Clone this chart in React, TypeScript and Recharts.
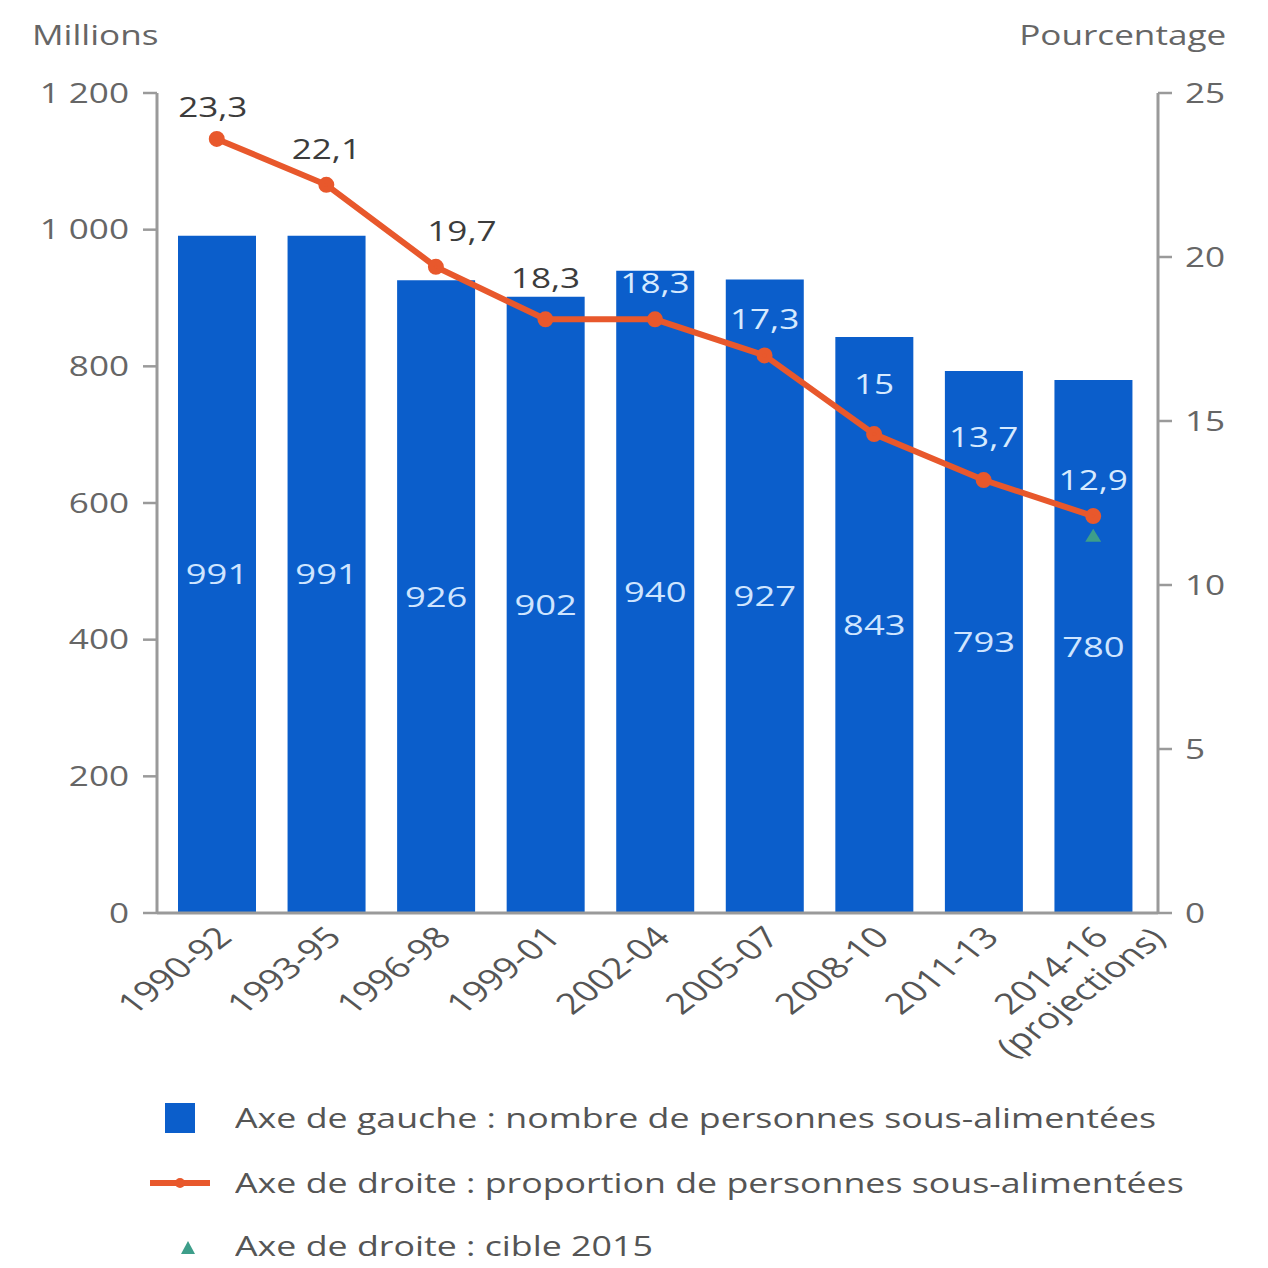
import React from "react";
import { Bar, ComposedChart, LabelList, Line, XAxis, YAxis } from "recharts";

const PERIODS = [
  "1990-92",
  "1993-95",
  "1996-98",
  "1999-01",
  "2002-04",
  "2005-07",
  "2008-10",
  "2011-13",
  "2014-16",
];
const PEOPLE = [991, 991, 926, 902, 940, 927, 843, 793, 780];
const SHARE = [23.6, 22.2, 19.7, 18.1, 18.1, 17.0, 14.6, 13.2, 12.1];
const SHARE_LABELS = ["23,3", "22,1", "19,7", "18,3", "18,3", "17,3", "15", "13,7", "12,9"];
const TARGET = [null, null, null, null, null, null, null, null, 11.5];
const LEFT_TICKS = [0, 200, 400, 600, 800, 1000, 1200];
const RIGHT_TICKS = [0, 5, 10, 15, 20, 25];

const BLUE = "#0b5ecb";
const ORANGE = "#e8582c";
const TEAL = "#3d9e8a";
const AXIS = "#9a9a9a";
const GREY_TEXT = "#666";
const FONT = "'Open Sans', 'DejaVu Sans', sans-serif";
// the source picture is stretched horizontally, so glyphs get widened too
const STRETCH = 1.3;

const data = PERIODS.map((period, i) => ({
  period,
  people: PEOPLE[i],
  share: SHARE[i],
  shareLabel: SHARE_LABELS[i],
  target: TARGET[i],
}));

const fmtThousands = (v: number) =>
  v >= 1000 ? `${Math.floor(v / 1000)} ${String(v % 1000).padStart(3, "0")}` : String(v);

function WideText({ x, y, anchor, fill, size, children }: any) {
  return (
    <g transform={`translate(${x},${y}) scale(${STRETCH},1)`}>
      <text x={0} y={0} dy="0.36em" textAnchor={anchor} fill={fill} fontSize={size} fontFamily={FONT}>
        {children}
      </text>
    </g>
  );
}

function LeftTick({ x, y, payload }: any) {
  return (
    <WideText x={x} y={y} anchor="end" fill={GREY_TEXT} size={27}>
      {fmtThousands(payload.value)}
    </WideText>
  );
}

function RightTick({ x, y, payload }: any) {
  return (
    <WideText x={x} y={y} anchor="start" fill={GREY_TEXT} size={27}>
      {payload.value}
    </WideText>
  );
}

function PeriodTick({ x, y, payload }: any) {
  const last = payload.value === "2014-16";
  return (
    <g transform={`translate(${x + 17},${y + 18}) scale(${STRETCH},1) rotate(-45)`}>
      <text x={0} y={0} textAnchor="end" fill="#555" fontSize={29} fontFamily={FONT}>
        {payload.value}
      </text>
      {last && (
        <text x={-54} y={32} textAnchor="middle" fill="#555" fontSize={29} fontFamily={FONT}>
          (projections)
        </text>
      )}
    </g>
  );
}

function PeopleLabel({ x, y, width, height, value }: any) {
  return (
    <WideText x={x + width / 2} y={y + height / 2} anchor="middle" fill="#cfe5ff" size={28}>
      {value}
    </WideText>
  );
}

function ShareLabel({ x, y, index, value }: any) {
  const dark = index < 4;
  const dx = index === 2 ? 26 : index === 0 ? -4 : 0;
  const dy = index === 6 ? -50 : index === 7 ? -43 : index === 3 ? -41 : index === 0 ? -32 : -36;
  return (
    <WideText x={x + dx} y={y + dy} anchor="middle" fill={dark ? "#3c3c3c" : "#d6eaff"} size={27}>
      {value}
    </WideText>
  );
}

function TargetDot({ cx, cy, payload }: any) {
  if (payload == null || payload.target == null || cy == null) return <g key={`t-${cx}`} />;
  return <path key={`t-${cx}`} d={`M${cx},${cy - 7} l-8,13 l16,0 z`} fill={TEAL} />;
}

const wide = (origin: string) =>
  ({
    display: "inline-block",
    transform: `scaleX(${STRETCH})`,
    transformOrigin: origin,
    whiteSpace: "nowrap",
  }) as const;

function LegendBlock() {
  const txt = {
    position: "absolute",
    left: 235,
    fontSize: 27.5,
    lineHeight: "30px",
    color: "#555",
    fontFamily: FONT,
    ...wide("left center"),
  } as const;
  return (
    <div style={{ position: "absolute", left: 0, top: 0 }}>
      <div style={{ position: "absolute", left: 165, top: 1103, width: 30, height: 30, background: BLUE }} />
      <span style={{ ...txt, top: 1103 }}>Axe de gauche : nombre de personnes sous-alimentées</span>
      <svg style={{ position: "absolute", left: 148, top: 1173 }} width={64} height={20}>
        <line x1={2} y1={10} x2={62} y2={10} stroke={ORANGE} strokeWidth={6} />
        <circle cx={32} cy={10} r={5} fill={ORANGE} />
      </svg>
      <span style={{ ...txt, top: 1168 }}>Axe de droite : proportion de personnes sous-alimentées</span>
      <svg style={{ position: "absolute", left: 178, top: 1238 }} width={20} height={20}>
        <path d="M10,3 l-7,13 l14,0 z" fill={TEAL} />
      </svg>
      <span style={{ ...txt, top: 1231 }}>Axe de droite : cible 2015</span>
    </div>
  );
}

export default function App() {
  return (
    <div
      style={{
        position: "absolute",
        left: 0,
        top: 0,
        width: 1268,
        height: 1268,
        background: "#fff",
        fontFamily: FONT,
      }}
    >
      <span style={{ position: "absolute", left: 32, top: 19, fontSize: 27, lineHeight: "32px", color: GREY_TEXT, ...wide("left center") }}>
        Millions
      </span>
      <span style={{ position: "absolute", right: 42, top: 19, fontSize: 27, lineHeight: "32px", color: GREY_TEXT, ...wide("right center") }}>
        Pourcentage
      </span>
      <ComposedChart
        width={1268}
        height={1268}
        data={data}
        margin={{ top: 93, right: 0, left: 0, bottom: 205 }}
        barSize={78}
      >
        <XAxis
          dataKey="period"
          interval={0}
          height={150}
          tick={<PeriodTick />}
          tickLine={false}
          axisLine={{ stroke: AXIS, strokeWidth: 3 }}
          padding={{ left: 5, right: 10 }}
        />
        <YAxis
          yAxisId="left"
          width={157}
          domain={[0, 1200]}
          ticks={LEFT_TICKS}
          tick={<LeftTick />}
          tickLine={{ stroke: AXIS, strokeWidth: 2.5 }}
          tickSize={14}
          tickMargin={14}
          axisLine={{ stroke: AXIS, strokeWidth: 3 }}
        />
        <YAxis
          yAxisId="right"
          orientation="right"
          width={110}
          domain={[0, 25]}
          ticks={RIGHT_TICKS}
          tick={<RightTick />}
          tickLine={{ stroke: AXIS, strokeWidth: 2.5 }}
          tickSize={14}
          tickMargin={13}
          axisLine={{ stroke: AXIS, strokeWidth: 3 }}
        />
        <Bar yAxisId="left" dataKey="people" fill={BLUE} isAnimationActive={false}>
          <LabelList dataKey="people" content={<PeopleLabel />} />
        </Bar>
        <Line
          yAxisId="right"
          dataKey="share"
          stroke={ORANGE}
          strokeWidth={6}
          dot={{ r: 5, fill: ORANGE, stroke: ORANGE }}
          activeDot={false}
          isAnimationActive={false}
        >
          <LabelList dataKey="shareLabel" content={<ShareLabel />} />
        </Line>
        <Line
          yAxisId="right"
          dataKey="target"
          stroke="none"
          dot={<TargetDot />}
          activeDot={false}
          isAnimationActive={false}
        />
      </ComposedChart>
      <LegendBlock />
    </div>
  );
}
